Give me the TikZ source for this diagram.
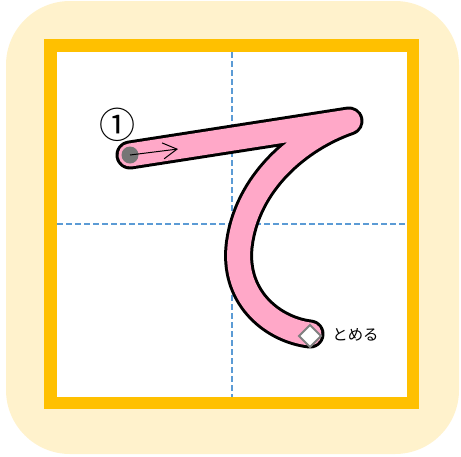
\documentclass[tikz,border=0pt]{standalone}
\usepackage{fontspec}
\newfontfamily\jpfont{Noto Sans CJK JP}
\usepackage{xcolor}
\usetikzlibrary{arrows.meta}
\usetikzlibrary{math}
\definecolor{mycream}{RGB}{255, 242, 204}
\definecolor{myorange}{RGB}{255, 192, 0}
\definecolor{mypink}{RGB}{255, 168, 200}
\definecolor{myblue}{RGB}{91, 155, 213}
\definecolor{mygray}{RGB}{118, 118, 118}

\begin{document}
\begin{tikzpicture}[x=0.5pt,y=-0.5pt]
\tikzmath{
\W=461;
\H=456;
\cx=232;
\cy=224;
}
\useasboundingbox (0,0) rectangle (\W,\H);

\fill[color=mycream, rounded corners=32pt] (6,1) rectangle (459,454);
\fill[color=white] (50.5,45.5) rectangle (413,403);

% guide lines
\draw[color=myblue, line width =1, dash pattern=on 3pt off 1.5pt] (\cx,52) -- (\cx,397);
\draw[color=myblue, line width =1, dash pattern=on 3pt off 1.5pt] (57,\cy) -- (407,\cy);

\draw[color=myorange, line width =6.25] (50.5,45.5) rectangle (413,403);

% the stroke
\coordinate (S) at (130,155);
\coordinate (T) at (349,121);
\coordinate (M) at (239,247);
\coordinate (E) at (310,334);
\draw[line width =1.5, double=mypink, double distance=11.5pt, line cap=round, line join=round]
  (S) -- (T) .. controls (300,138) and (246,182) .. (M) .. controls (234,300) and (275,330) .. (E);

\fill[color=mygray] (S) circle (4.25pt);
\draw[-{Straight Barb[length=7pt,width=8pt]}, line width =0.5] (S) -- (178,149);

\filldraw[fill=white, draw=gray, line width =1] (310,336) ++(0,-11) -- ++(11,11) -- ++(-11,11) -- ++(-11,-11) -- cycle;

\node (one) at (117.5,124.5) {\jpfont\fontsize{18pt}{18pt}\selectfont ①};
\node[anchor=west, inner sep=0] (tome) at (332,335) {\jpfont\fontsize{7.7pt}{7.7pt}\selectfont とめる};
\end{tikzpicture}
\end{document}
